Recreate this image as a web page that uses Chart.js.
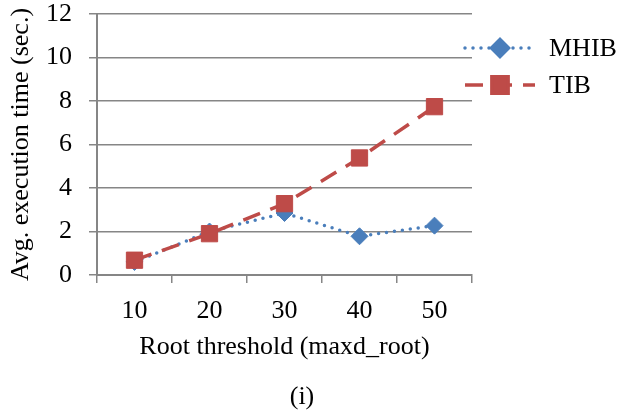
<!DOCTYPE html>
<html>
<head>
    <title>Avg. execution time</title>
    <style>
        body {
            margin: 0;
            padding: 0;
            background-color: #FFFFFF;
        }

        #chart-container {
            width: 628px;
            height: 412px;
        }
    </style>
</head>
<body>
    <div id="chart-container">
        <canvas id="chart" width="628" height="412"></canvas>
    </div>

    <script src="https://cdn.jsdelivr.net/npm/chart.js"></script>
    <script>
        var categories = ['10', '20', '30', '40', '50'];
        var mhibValues = [0.6, 2.0, 2.85, 1.78, 2.27];
        var tibValues = [0.68, 1.9, 3.28, 5.38, 7.74];
        var seriesNames = ['MHIB', 'TIB'];
        var yMin = 0, yMax = 12, yStep = 2;
        var xTitle = 'Root threshold (maxd_root)';
        var yTitle = 'Avg. execution time (sec.)';
        var caption = '(i)';

        var serif = '"Liberation Serif", "Times New Roman", serif';
        var fontSize = 26;
        var axisGray = '#868686';

        // legend on the right side, line + marker like the office style
        var sideLegend = {
            id: 'sideLegend',
            afterDraw: function(chart) {
                var ctx = chart.ctx;
                var rows = [48, 85];
                chart.data.datasets.forEach(function(ds, i) {
                    var y = rows[i];
                    ctx.save();
                    ctx.strokeStyle = ds.borderColor;
                    ctx.lineWidth = ds.borderWidth;
                    ctx.lineCap = ds.borderCapStyle;
                    ctx.setLineDash(ds.borderDash);
                    ctx.beginPath();
                    ctx.moveTo(465, y);
                    ctx.lineTo(535, y);
                    ctx.stroke();
                    ctx.setLineDash([]);
                    ctx.fillStyle = ds.pointBackgroundColor;
                    ctx.strokeStyle = ds.pointBorderColor;
                    Chart.helpers.drawPoint(ctx, {
                        pointStyle: ds.pointStyle,
                        radius: ds.pointRadius,
                        borderWidth: 1,
                        rotation: 0
                    }, 500, y);
                    ctx.fillStyle = '#000000';
                    ctx.font = fontSize + 'px ' + serif;
                    ctx.textAlign = 'left';
                    ctx.textBaseline = 'middle';
                    ctx.fillText(ds.label, 549, y + 1);
                    ctx.restore();
                });

                // caption under the chart
                ctx.save();
                ctx.fillStyle = '#000000';
                ctx.font = fontSize + 'px ' + serif;
                ctx.textAlign = 'center';
                ctx.textBaseline = 'middle';
                ctx.fillText(caption, 302, 397);
                ctx.restore();
            }
        };

        var ctx = document.getElementById('chart').getContext('2d');
        var chart = new Chart(ctx, {
            type: 'line',
            data: {
                labels: categories,
                datasets: [{
                    label: seriesNames[0],
                    data: mhibValues,
                    order: 1,
                    borderColor: '#4A7EBB',
                    backgroundColor: '#4A7EBB',
                    borderWidth: 3.5,
                    borderDash: [0, 8],
                    borderCapStyle: 'round',
                    pointStyle: 'rectRot',
                    pointRadius: 8.5,
                    pointBorderWidth: 1,
                    pointBackgroundColor: '#4A7EBB',
                    pointBorderColor: '#4A7EBB',
                    tension: 0
                }, {
                    label: seriesNames[1],
                    data: tibValues,
                    order: 0,
                    borderColor: '#BE4B48',
                    backgroundColor: '#BE4B48',
                    borderWidth: 3.5,
                    borderDash: [18, 11],
                    borderCapStyle: 'butt',
                    pointStyle: 'rect',
                    pointRadius: 11.5,
                    pointBorderWidth: 1,
                    pointBackgroundColor: '#BE4B48',
                    pointBorderColor: '#BE4B48',
                    tension: 0
                }]
            },
            options: {
                responsive: false,
                animation: false,
                layout: {
                    padding: { left: 0, top: 14, right: 156, bottom: 40 }
                },
                plugins: {
                    legend: { display: false },
                    tooltip: { enabled: false }
                },
                scales: {
                    x: {
                        offset: true,
                        grid: {
                            offset: true,
                            drawOnChartArea: false,
                            drawTicks: true,
                            tickLength: 8,
                            color: axisGray,
                            lineWidth: 1.5
                        },
                        border: { color: axisGray, width: 2 },
                        ticks: {
                            color: '#000000',
                            padding: 13,
                            font: { family: serif, size: fontSize }
                        },
                        title: {
                            display: true,
                            text: xTitle,
                            color: '#000000',
                            padding: { top: 0, bottom: 9 },
                            font: { family: serif, size: fontSize }
                        },
                        afterFit: function(scale) {
                            scale.height = 97;
                        }
                    },
                    y: {
                        min: yMin,
                        max: yMax,
                        grid: {
                            color: axisGray,
                            lineWidth: 1.5,
                            tickLength: 8
                        },
                        border: { color: axisGray, width: 2 },
                        ticks: {
                            stepSize: yStep,
                            color: '#000000',
                            padding: 17,
                            font: { family: serif, size: fontSize }
                        },
                        title: {
                            display: true,
                            text: yTitle,
                            color: '#000000',
                            padding: { top: 6, bottom: 0 },
                            font: { family: serif, size: fontSize }
                        },
                        afterFit: function(scale) {
                            scale.width = 97;
                            // keep the plot top close to the canvas edge
                            scale.paddingTop = 0;
                            scale.paddingBottom = 0;
                        }
                    }
                }
            },
            plugins: [sideLegend]
        });
    </script>
</body>
</html>
